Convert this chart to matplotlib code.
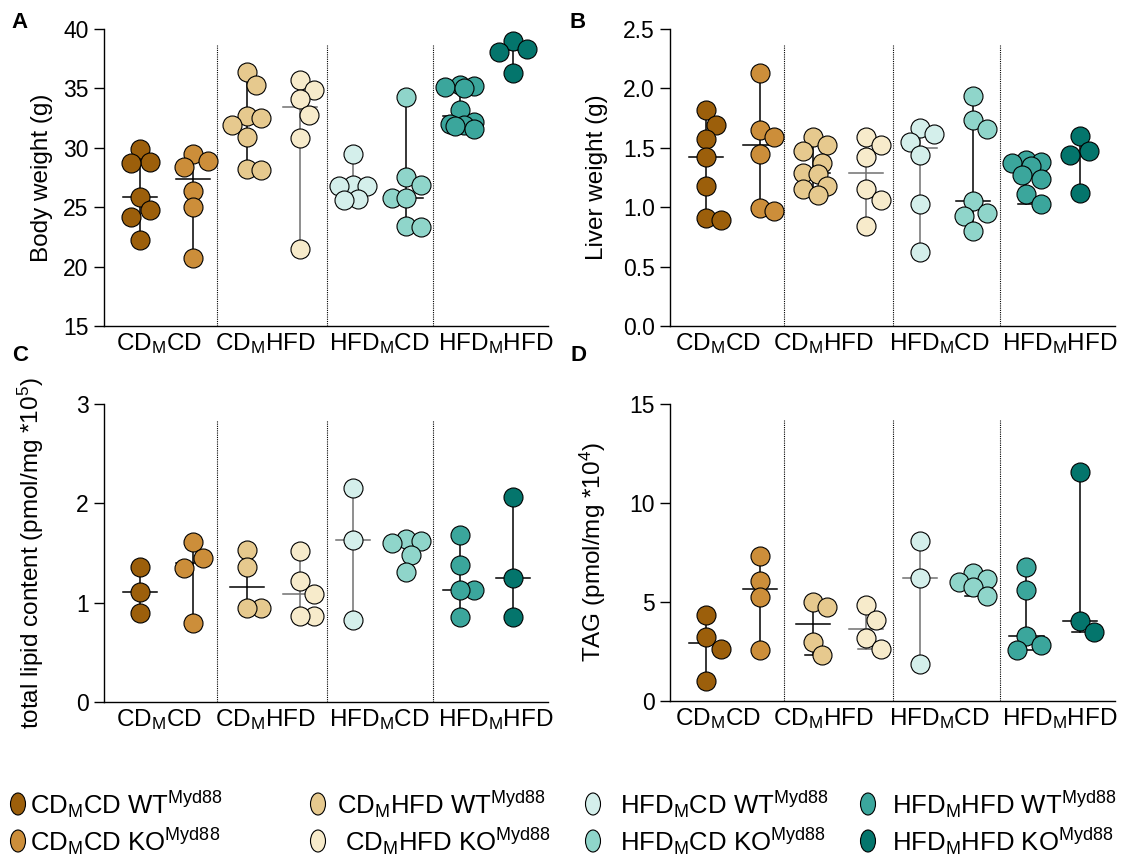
import numpy as np
import matplotlib
matplotlib.use('Agg')
import matplotlib.pyplot as plt
from matplotlib.patches import Ellipse

plt.rcParams['font.family'] = ['Liberation Sans', 'DejaVu Sans']
plt.rcParams['mathtext.fontset'] = 'custom'
plt.rcParams['mathtext.rm'] = 'Liberation Sans'
plt.rcParams['mathtext.it'] = 'Liberation Sans'
plt.rcParams['mathtext.default'] = 'regular'

# diet groups (dam diet _M offspring diet), two genotypes each
groups = ['CD$_{M}$CD', 'CD$_{M}$HFD', 'HFD$_{M}$CD', 'HFD$_{M}$HFD']
genotypes = ['WT$^{Myd88}$', 'KO$^{Myd88}$']
colors = ['#9c5f0b', '#cc8e3a', '#e6c98e', '#f7ebcb',
          '#d4efeb', '#8fd5ca', '#3ba69c', '#04756c']
line_colors = ['black', 'black', 'black', '#707070',
               '#707070', 'black', 'black', 'black']

body_weight = [
    [29.9, 28.8, 28.7, 25.9, 24.8, 24.2, 22.2],
    [29.5, 28.9, 28.4, 26.4, 25.0, 20.7],
    [36.4, 35.3, 32.7, 32.5, 31.9, 30.9, 28.2, 28.1],
    [35.7, 34.9, 34.1, 32.8, 30.8, 21.5],
    [29.5, 26.9, 26.8, 26.8, 25.7, 25.6],
    [34.3, 27.5, 26.9, 25.8, 25.8, 23.4, 23.3],
    [35.3, 35.2, 35.1, 35.0, 33.2, 32.2, 32.0, 31.9, 31.8, 31.6],
    [39.0, 38.3, 38.1, 36.3],
]
liver_weight = [
    [1.82, 1.69, 1.57, 1.42, 1.18, 0.91, 0.89],
    [2.13, 1.65, 1.59, 1.45, 0.99, 0.97],
    [1.59, 1.52, 1.47, 1.37, 1.29, 1.28, 1.18, 1.15, 1.10],
    [1.59, 1.52, 1.42, 1.15, 1.06, 0.84],
    [1.67, 1.62, 1.55, 1.44, 1.03, 0.62],
    [1.94, 1.73, 1.66, 1.05, 0.95, 0.93, 0.80],
    [1.40, 1.38, 1.37, 1.35, 1.27, 1.24, 1.11, 1.03],
    [1.60, 1.47, 1.44, 1.12],
]
total_lipid = [
    [1.36, 1.11, 0.90],
    [1.61, 1.45, 1.35, 0.80],
    [1.53, 1.36, 0.95, 0.95],
    [1.52, 1.22, 1.09, 0.87, 0.87],
    [2.15, 1.63, 0.83],
    [1.64, 1.62, 1.60, 1.48, 1.31],
    [1.68, 1.38, 1.13, 1.13, 0.86],
    [2.06, 1.25, 0.86],
]
tag = [
    [4.33, 3.22, 2.64, 1.03],
    [7.32, 6.06, 5.24, 2.58],
    [5.02, 4.73, 3.00, 2.32],
    [4.85, 4.09, 3.20, 2.61],
    [8.10, 6.23, 1.87],
    [6.48, 6.14, 6.03, 5.74, 5.32],
    [6.78, 5.61, 3.28, 2.83, 2.58],
    [11.55, 4.06, 3.50],
]

W, H = 1128, 859
fig = plt.figure(figsize=(W / 100, H / 100), dpi=100)

FS_TICK = 16.5
FS_LABEL = 17.5
DIAM = 19.0  # marker diameter in px


def add_axes_px(left, right, top, bottom):
    return fig.add_axes([left / W, 1 - bottom / H, (right - left) / W, (bottom - top) / H])


def swarm(ax, xc, vals):
    # compact beeswarm in pixel space: points may overlap, spread is capped
    p0 = ax.transData.transform((0, 0))
    p1 = ax.transData.transform((1, 1))
    sx, sy = p1[0] - p0[0], p1[1] - p0[1]
    order = np.argsort(vals, kind='stable')[::-1]
    min_d = 0.85 * DIAM
    cands = np.array([0, 0.5, -0.5, 0.25, -0.25, 0.75, -0.75]) * DIAM
    placed = []
    xs = np.zeros(len(vals))
    for i in order:
        y = vals[i] * sy
        best, best_d = 0.0, -1.0
        for x in cands:
            d = min([np.hypot(x - px, y - py) for px, py in placed], default=1e9)
            if d >= min_d:
                best = x
                break
            if d > best_d:
                best, best_d = x, d
        placed.append((best, y))
        xs[i] = xc + best / sx
    return xs


def panel(ax, data, ylim, yticks, fmt, ylabel, label_x, label_pos):
    ax.set_xlim(-0.68, 7.66)
    ax.set_ylim(*ylim)
    for s in ['top', 'right']:
        ax.spines[s].set_visible(False)
    for s in ['left', 'bottom']:
        ax.spines[s].set_linewidth(1.0)
    ax.set_xticks([])
    ax.set_yticks(yticks)
    ax.set_yticklabels([fmt.format(t) for t in yticks])
    ax.tick_params(axis='y', length=7, width=1.0, labelsize=FS_TICK, pad=4)
    ax.set_ylabel(ylabel, fontsize=FS_LABEL)
    ax.yaxis.set_label_coords(label_x, 0.5)

    xt = ax.get_xaxis_transform()
    for sep in [1.45, 3.5, 5.5]:
        ax.plot([sep, sep], [0, 0.945], transform=xt, color='black',
                lw=0.8, ls=(0, (1, 1)), clip_on=False)

    for i, vals in enumerate(data):
        vals = np.array(vals)
        med, lo, hi = np.median(vals), vals.min(), vals.max()
        lc = line_colors[i]
        ax.plot([i, i], [lo, hi], color=lc, lw=1.1, zorder=2)
        ax.plot([i - 0.15, i + 0.15], [hi, hi], color=lc, lw=1.1, zorder=2)
        ax.plot([i - 0.15, i + 0.15], [lo, lo], color=lc, lw=1.1, zorder=2)
        ax.plot([i - 0.32, i + 0.32], [med, med], color=lc, lw=1.1, zorder=2)
        xs = swarm(ax, i, vals)
        ax.scatter(xs, vals, s=(DIAM * 0.72) ** 2, color=colors[i],
                   edgecolor='black', linewidth=0.8, zorder=3, clip_on=False)

    for g, xp in zip(groups, label_pos):
        ax.text(xp, -0.08, g, transform=xt, ha='center', va='baseline', fontsize=FS_LABEL)


axA = add_axes_px(104, 548, 29, 326)
axB = add_axes_px(670, 1115, 29, 326)
axC = add_axes_px(104, 548, 404, 702)
axD = add_axes_px(670, 1115, 404, 701)

pos_left = [0.36, 2.36, 4.5, 6.68]
pos_right = [0.21, 2.2, 4.37, 6.62]

panel(axA, body_weight, (15, 40), [15, 20, 25, 30, 35, 40], '{:.0f}',
      'Body weight (g)', -0.115, pos_left)
panel(axB, liver_weight, (0, 2.5), [0, 0.5, 1.0, 1.5, 2.0, 2.5], '{:.1f}',
      'Liver weight (g)', -0.14, pos_right)
panel(axC, total_lipid, (0, 3), [0, 1, 2, 3], '{:.0f}',
      'total lipid content (pmol/mg *10$^{5}$)', -0.13, pos_left)
panel(axD, tag, (0, 15), [0, 5, 10, 15], '{:.0f}',
      'TAG (pmol/mg *10$^{4}$)', -0.14, pos_right)

for letter, (lx, ly) in zip('ABCD', [(20, 22), (578, 22), (20, 355), (578, 355)]):
    fig.text(lx / W, 1 - ly / H, letter, fontsize=16, fontweight='bold',
             ha='center', va='center')

# legend drawn by hand: four columns, WT row above KO row
leg_marker_x = [18, 318, 593, 868]
leg_text_x = [[30, 337, 620, 892], [30, 345, 620, 892]]
leg_row_y = [804, 841]
for r, geno in enumerate(genotypes):
    for c, g in enumerate(groups):
        idx = 2 * c + r
        mx, my = leg_marker_x[c] / W, 1 - leg_row_y[r] / H
        fig.patches.append(Ellipse((mx, my), 15 / W, 22 / H, transform=fig.transFigure,
                                   facecolor=colors[idx], edgecolor='black', lw=0.8))
        fig.text(leg_text_x[r][c] / W, my, g + ' ' + geno, fontsize=18.5,
                 ha='left', va='center')

fig.savefig('out.png', dpi=100)
